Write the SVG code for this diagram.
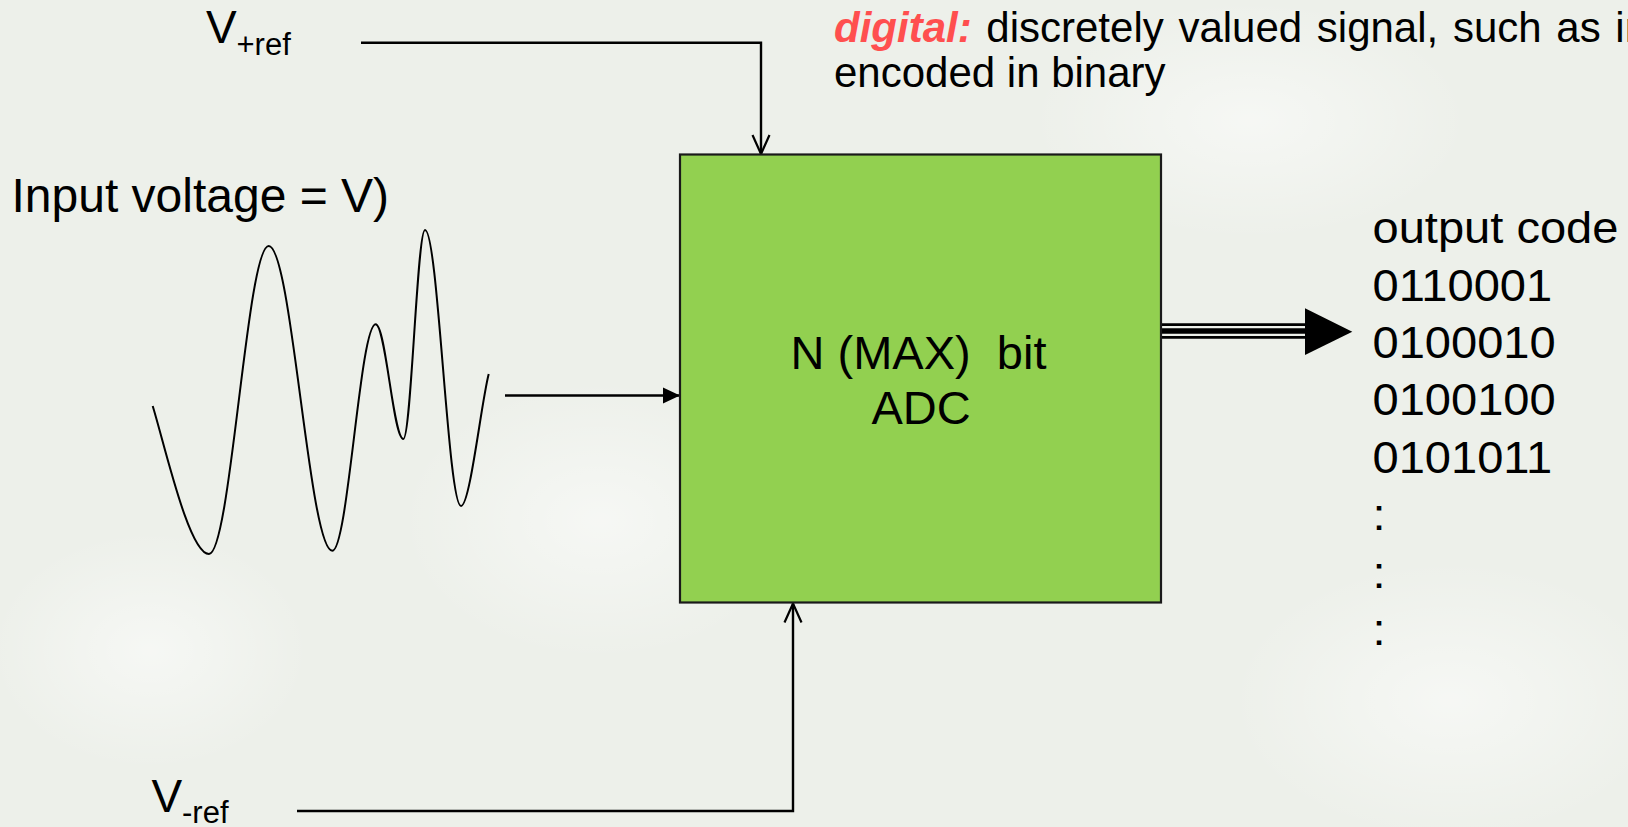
<svg xmlns="http://www.w3.org/2000/svg" width="1628" height="827" viewBox="0 0 1628 827">
  <style>
    .t { font-family: "Liberation Sans", Arial, sans-serif; fill: #000; }
    .ln { fill: none; stroke: #000; stroke-width: 2.4; }
    .wave { fill: none; stroke: #000; stroke-width: 2; stroke-linejoin: round; }
  </style>
  <defs>
    <radialGradient id="blob" cx="50%" cy="50%" r="50%">
      <stop offset="0" stop-color="#ffffff" stop-opacity="0.5"/>
      <stop offset="1" stop-color="#ffffff" stop-opacity="0"/>
    </radialGradient>
    <marker id="openArrow" markerUnits="userSpaceOnUse" markerWidth="24" markerHeight="24" viewBox="-22 -12 24 24" refX="0" refY="0" orient="auto">
      <path d="M-19,-8.5 L0,0 L-19,8.5" fill="none" stroke="#000" stroke-width="2.2"/>
    </marker>
    <marker id="solidArrow" markerUnits="userSpaceOnUse" markerWidth="22" markerHeight="22" viewBox="-19 -11 22 22" refX="0" refY="0" orient="auto">
      <path d="M-17,-8 L0,0 L-17,8 Z" fill="#000"/>
    </marker>
  </defs>

  <!-- background -->
  <rect x="0" y="0" width="1628" height="827" fill="#edf0ea"/>
  <ellipse cx="150" cy="650" rx="160" ry="120" fill="url(#blob)"/>
  <ellipse cx="600" cy="520" rx="200" ry="140" fill="url(#blob)"/>
  <ellipse cx="1250" cy="120" rx="220" ry="120" fill="url(#blob)"/>
  <ellipse cx="1450" cy="700" rx="220" ry="140" fill="url(#blob)"/>

  <!-- connectors -->
  <g id="connectors">
    <path id="conn-vpref" class="ln" d="M361,42.7 H761 V154" marker-end="url(#openArrow)"/>
    <path id="conn-vmref" class="ln" d="M297,811 H793 V603.5" marker-end="url(#openArrow)"/>
    <path id="conn-input" class="ln" d="M505,395.5 H680" marker-end="url(#solidArrow)"/>
    <g id="conn-output">
      <line x1="1161" y1="331" x2="1306" y2="331" stroke="#000" stroke-width="15.5"/>
      <line x1="1161" y1="327.2" x2="1306" y2="327.2" stroke="#edf0ea" stroke-width="2.2"/>
      <line x1="1161" y1="334.8" x2="1306" y2="334.8" stroke="#edf0ea" stroke-width="2.2"/>
      <polygon points="1305,308.3 1352.3,331.7 1305,355" fill="#000"/>
    </g>
  </g>

  <!-- V+ref label -->
  <g id="vpref">
    <text class="t" x="206" y="43.3" font-size="46">V</text>
    <text class="t" x="236.5" y="55" font-size="31">+ref</text>
  </g>

  <!-- V-ref label -->
  <g id="vmref">
    <text class="t" x="151.5" y="811.7" font-size="46">V</text>
    <text class="t" x="182" y="822.7" font-size="31">-ref</text>
  </g>

  <!-- input signal -->
  <g id="input">
    <text class="t" x="11.5" y="212" font-size="48">Input voltage = V)</text>
    <path class="wave" d="M152.7,406 C165,446 189,554 209,554 C230.7,554 247,246 268.7,246 C291.8,246 309.2,550.7 332.3,550.7 C348.1,550.7 359.9,324.3 375.7,324.3 C385.7,324.3 393.3,439 403.3,439 C411.2,439 417.1,230 425,230 C438.1,230 447.9,506 461,506 C470,506 481,404 488.7,374"/>
  </g>

  <!-- ADC block -->
  <g id="adc">
    <rect x="680" y="154.5" width="481" height="448" fill="#92d050" stroke="#1a1a1a" stroke-width="2.2"/>
    <text class="t" x="918.5" y="369" font-size="47" text-anchor="middle" xml:space="preserve" style="white-space:pre">N (MAX)  bit</text>
    <text class="t" x="921" y="424" font-size="47" text-anchor="middle">ADC</text>
  </g>

  <!-- output code -->
  <g id="output" transform="translate(1372.5,0) scale(1.07,1)">
    <text class="t" x="0" y="243.5" font-size="44">output code</text>
    <text class="t" x="0" y="301" font-size="44">0110001</text>
    <text class="t" x="0" y="358" font-size="44">0100010</text>
    <text class="t" x="0" y="415.5" font-size="44">0100100</text>
    <text class="t" x="0" y="473" font-size="44">0101011</text>
    <text class="t" x="0" y="530.5" font-size="44">:</text>
    <text class="t" x="0" y="588" font-size="44">:</text>
    <text class="t" x="0" y="645.5" font-size="44">:</text>
  </g>

  <!-- definition text -->
  <g id="definition">
    <text class="t" x="834" y="41.7" font-size="42"><tspan font-weight="bold" font-style="italic" fill="#ff4f4f">digital:</tspan><tspan word-spacing="3"> discretely valued signal, such as in</tspan></text>
    <text class="t" x="834" y="87" font-size="42">encoded in binary</text>
  </g>
</svg>
